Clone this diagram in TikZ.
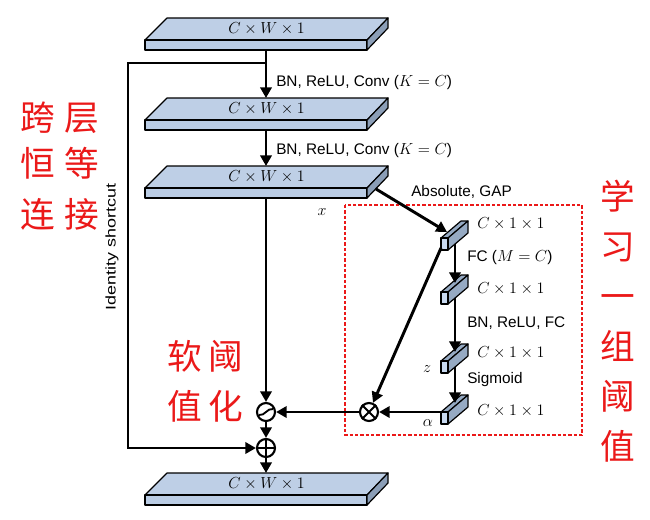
\documentclass[tikz,border=0pt]{standalone}
\usepackage{fontspec}
\setmainfont{Liberation Sans}
\newfontfamily\cjk{Noto Sans CJK SC}
\usetikzlibrary{arrows.meta}
\definecolor{slabtopc}{RGB}{190,207,230}
\definecolor{slabfrontc}{RGB}{186,204,228}
\definecolor{slabsidec}{RGB}{139,158,183}
\definecolor{barfrontc}{RGB}{200,217,240}
\definecolor{bartopc}{RGB}{150,170,195}
\definecolor{cnred}{RGB}{235,25,25}
\tikzset{
  conn/.style={line width=2.2pt, -{Triangle[length=8pt,width=8.5pt]}},
  facestyle/.style={draw=black, line width=0.9pt, line join=round},
  slabtop/.style={facestyle, fill=slabtopc},
  slabfront/.style={facestyle, fill=slabfrontc},
  slabside/.style={facestyle, fill=slabsidec},
  bartop/.style={facestyle, fill=bartopc},
  barfront/.style={facestyle, fill=barfrontc},
  dimlabel/.style={font=\fontsize{11.5}{13}\selectfont, inner sep=0pt},
  txt/.style={font=\fontsize{11.5}{13}\selectfont, inner sep=0pt, anchor=west},
  op/.style={circle, draw, line width=1.6pt, minimum size=13.5pt, inner sep=0pt, fill=white},
  cn/.style={font=\cjk\fontsize{26}{37.5}\selectfont, text=cnred, inner sep=0pt, align=center},
  redbox/.style={draw=cnred, line width=0.8pt, dash pattern=on 2.5pt off 1.5pt},
}
\newcommand\myslab[2]{%
  \begin{scope}[shift={(0,#2)}]
    \filldraw[slabtop] (145,0) -- (167,-22) -- (388,-22) -- (367,0) -- cycle;
    \filldraw[slabfront] (145,0) rectangle (367,10);
    \filldraw[slabside] (367,0) -- (388,-22) -- (388,-12) -- (367,10) -- cycle;
    \node[dimlabel] (#1) at (266.5,-11) {$C\times W\times 1$};
    \coordinate (#1-t) at (266,-22);
    \coordinate (#1-b) at (266,10);
  \end{scope}}
\newcommand\cbar[3]{%
  \begin{scope}[shift={(#2,#3)}]
    \filldraw[bartop] (0,0) -- (20,-17) -- (27,-17) -- (7,0) -- cycle;
    \filldraw[bartop] (7,0) -- (27,-17) -- (27,-5) -- (7,12) -- cycle;
    \filldraw[barfront] (0,0) rectangle (7,12);
    \coordinate (#1-l) at (0,10);
    \coordinate (#1-w) at (0,0);
    \coordinate (#1-o) at (14,6);
    \coordinate (#1-i) at (14,-9);
  \end{scope}}
\begin{document}
\begin{tikzpicture}[x=0.75pt,y=-0.75pt]
\useasboundingbox[fill=white] (0,0) rectangle (650,519);

% red dashed box
\draw[redbox] (345,205) rectangle (582,435);

% slabs
\myslab{s1}{40}
\myslab{s2}{120}
\myslab{s3}{188}
\myslab{s4}{495}

% bars
\cbar{b1}{441}{238}
\cbar{b2}{441}{292}
\cbar{b3}{441}{361}
\cbar{b4}{441}{412}

% operators
\node[op] (soft) at (266,412) {};
\node[op] (add) at (266,448) {};
\node[op] (mul) at (369,412) {};
\draw[line width=1.5pt] (add.north) -- (add.south) (add.west) -- (add.east);
\draw[line width=1.5pt] (mul.north east) -- (mul.south west) (mul.north west) -- (mul.south east);
\draw[line width=1.4pt] (259,415) .. controls (265,416) and (267,408) .. (273,409);

% main path
\draw[conn] (s1-b) -- (s2-t);
\draw[conn] (s2-b) -- (s3-t);
\draw[conn] (s3-b) -- (soft);
\draw[conn] (soft) -- (add);
\draw[conn] (add) -- (s4-t);

% identity shortcut
\coordinate (branch) at (266,63);
\coordinate (sc1) at (128,63);
\coordinate (sc2) at (128,448);
\draw[conn, line join=miter] (branch) -- (sc1) -- (sc2) -- (add);

% threshold branch
\coordinate (s3-r) at (376,189);
\coordinate (b1-in) at (447,232);
\draw[conn] (s3-r) -- (b1-in);
\draw[conn] (b1-o) -- (b2-i);
\draw[conn] (b2-o) -- (b3-i);
\draw[conn] (b3-o) -- (b4-i);
\draw[conn] (b1-l) -- (mul);
\draw[conn] (b4-w) -- (mul);
\draw[conn] (mul) -- (soft);

% labels
\node[txt] (l1) at (276,83) {BN, ReLU, Conv ($K=C$)};
\node[txt] (l2) at (276,151) {BN, ReLU, Conv ($K=C$)};
\node[txt] (l3) at (411,192) {Absolute, GAP};
\node[dimlabel] (lx) at (322,212) {$x$};
\node[txt] (c1) at (477,224) {$C\times 1\times 1$};
\node[txt] (c2) at (477,289) {$C\times 1\times 1$};
\node[txt] (c3) at (477,353) {$C\times 1\times 1$};
\node[txt] (c4) at (477,411) {$C\times 1\times 1$};
\node[txt] (fc1) at (467,258) {FC ($M=C$)};
\node[txt] (fc2) at (467,323) {BN, ReLU, FC};
\node[txt] (sig) at (467,380) {Sigmoid};
\node[dimlabel] (lz) at (427,369) {$z$};
\node[dimlabel] (la) at (428,423) {$\alpha$};
\node[rotate=90, inner sep=0pt, font=\fontsize{10.5}{12}\selectfont] (ids) at (112,247) {\scalebox{1.28}[1]{Identity shortcut}};

% Chinese annotations
\node[cn] (cn1) at (60,118) {跨\hspace{7pt}层};
\node[cn] (cn2) at (60,163) {恒\hspace{7pt}等};
\node[cn] (cn3) at (60,214) {连\hspace{7pt}接};
\node[cn] (cn4) at (205,381) {软\hspace{5pt}阈\\值\hspace{5pt}化};
\node[cn] (cn5) at (618,321) {学\\习\\一\\组\\阈\\值};
\end{tikzpicture}
\end{document}
